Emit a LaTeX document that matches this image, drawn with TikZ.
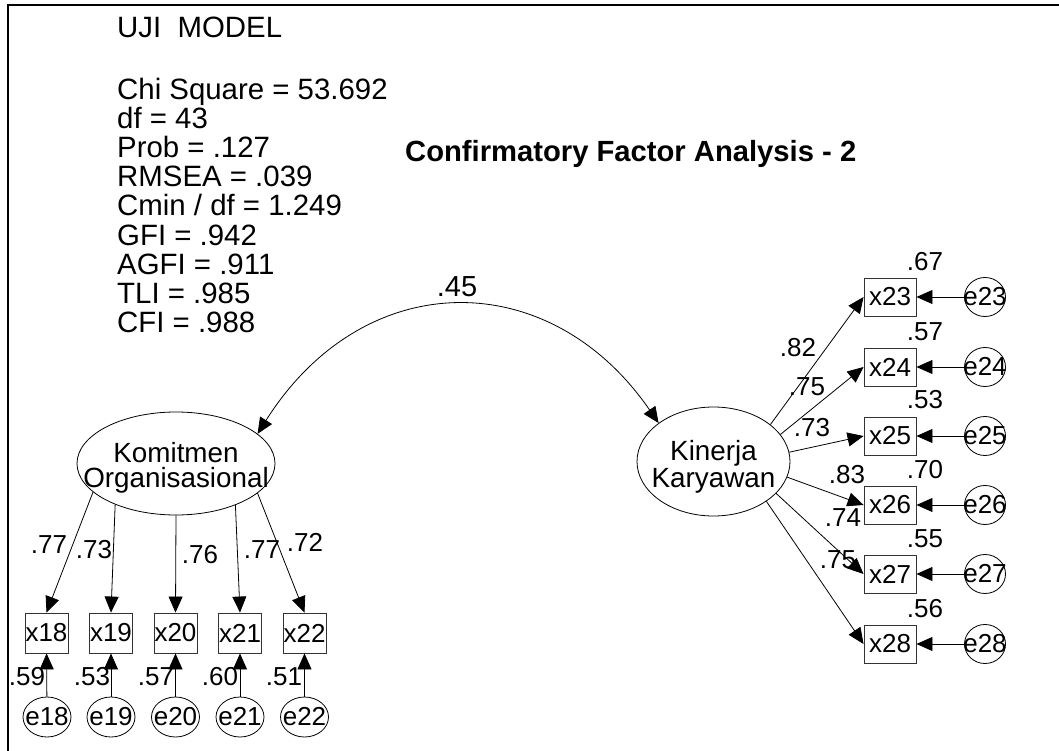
\documentclass[tikz,border=0pt]{standalone}
\usepackage{fontspec}
\setmainfont{Liberation Sans}
\usetikzlibrary{arrows.meta,shapes.geometric}

\begin{document}
\begin{tikzpicture}[x=1pt, y=-1pt,
    >={Triangle[length=16pt,width=14pt]},
    stat/.style={anchor=base west, inner sep=0pt, font=\fontsize{29.4}{29}\selectfont},
    lat/.style={ellipse, draw, line width=0.8pt, inner sep=0pt},
    latname/.style={align=center, inner sep=0pt, font=\fontsize{27.8}{25}\selectfont},
    obsl/.style={rectangle, draw=black!80, line width=0.9pt, inner sep=0pt, minimum width=43pt, minimum height=40pt, font=\fontsize{26}{26}\selectfont},
    obsr/.style={obsl, minimum width=52pt, minimum height=38pt},
    errl/.style={ellipse, draw, line width=0.8pt, inner sep=0pt, minimum width=48pt, minimum height=40pt, font=\fontsize{26}{26}\selectfont},
    errr/.style={errl, minimum width=41pt, minimum height=39pt},
    num/.style={inner sep=0pt, font=\fontsize{26}{26}\selectfont},
    path/.style={->, line width=0.8pt}]

    \useasboundingbox (0,0) rectangle (1059,751);
    \draw[line width=2.5pt] (8,751) -- (8,5) -- (1059,5);

    % fit summary
    \node[stat] (uji) at (117,38) {UJI\ \ MODEL};
    \node[stat] (chi) at (117,100) {Chi Square = 53.692};
    \node[stat] (df) at (117,129) {df = 43};
    \node[stat] (prob) at (117,158) {Prob = .127};
    \node[stat] (rmsea) at (117,187) {RMSEA = .039};
    \node[stat] (cmin) at (117,216) {Cmin / df = 1.249};
    \node[stat] (gfi) at (117,245) {GFI = .942};
    \node[stat] (agfi) at (117,274) {AGFI = .911};
    \node[stat] (tli) at (117,303) {TLI = .985};
    \node[stat] (cfi) at (117,332) {CFI = .988};
    \node[stat, font=\fontsize{29.2}{29}\selectfont\bfseries] (title) at (405,162) {Confirmatory Factor Analysis - 2};

    % latent variables
    \node[lat, minimum width=198pt, minimum height=103pt] (ko) at (176,463.5) {};
    \node[latname] (kot) at (176,468) {Komitmen\\Organisasional};
    \node[lat, minimum width=153pt, minimum height=109pt] (kk) at (713.5,461.5) {};
    \node[latname, font=\fontsize{27.8}{27}\selectfont] (kkt) at (713.5,466.7) {Kinerja\\Karyawan};

    \draw[<->, line width=0.8pt] (ko.20.6) .. controls (364,265) and (550,265) .. (kk.145.3);
    \node[num, font=\fontsize{29}{29}\selectfont] (r) at (457,287) {.45};

    % Komitmen Organisasional
    \node[obsl] (x18) at (46.5,633) {x18};
    \node[obsl] (x19) at (111,633) {x19};
    \node[obsl] (x20) at (175.5,633) {x20};
    \node[obsl] (x21) at (240,633) {x21};
    \node[obsl] (x22) at (304.5,633) {x22};

    \node[errl] (e18) at (47,717) {\makebox[0pt]{e18}};
    \node[errl] (e19) at (111,717) {\makebox[0pt]{e19}};
    \node[errl] (e20) at (175.5,717) {\makebox[0pt]{e20}};
    \node[errl] (e21) at (240,717) {\makebox[0pt]{e21}};
    \node[errl] (e22) at (304.5,717) {\makebox[0pt]{e22}};

    \draw[path] (ko.199.6) -- (x18.north);
    \draw[path] (ko.214.2) -- (x19.north);
    \draw[path] (ko.270) -- (x20.north);
    \draw[path] (ko.325.8) -- (x21.north);
    \draw[path] (ko.340.6) -- (x22.north);

    \draw[path] (e18) -- (x18);
    \draw[path] (e19) -- (x19);
    \draw[path] (e20) -- (x20);
    \draw[path] (e21) -- (x21);
    \draw[path] (e22) -- (x22);

    \node[num] (l18) at (49,545) {.77};
    \node[num] (l19) at (94,550) {.73};
    \node[num] (l20) at (200,555) {.76};
    \node[num] (l21) at (262,550) {.77};
    \node[num] (l22) at (305,542) {.72};

    \node[num] (s18) at (27,677) {.59};
    \node[num] (s19) at (92,677) {.53};
    \node[num] (s20) at (156,677) {.57};
    \node[num] (s21) at (220,677) {.60};
    \node[num] (s22) at (284,677) {.51};

    % Kinerja Karyawan
    \node[obsr] (x23) at (890,297) {x23};
    \node[obsr] (x24) at (890,367) {x24};
    \node[obsr] (x25) at (890,436) {x25};
    \node[obsr] (x26) at (890,505) {x26};
    \node[obsr] (x27) at (890,574) {x27};
    \node[obsr] (x28) at (890,644) {x28};

    \node[errr] (e23) at (985,297) {\makebox[0pt]{e23}};
    \node[errr] (e24) at (985,367) {\makebox[0pt]{e24}};
    \node[errr] (e25) at (985,436) {\makebox[0pt]{e25}};
    \node[errr] (e26) at (985,505) {\makebox[0pt]{e26}};
    \node[errr] (e27) at (985,574) {\makebox[0pt]{e27}};
    \node[errr] (e28) at (985,644) {\makebox[0pt]{e28}};

    \draw[path] (kk.33.3) -- (x23.west);
    \draw[path] (kk.22.6) -- (x24.west);
    \draw[path] (kk.7.1) -- (x25.west);
    \draw[path] (kk.348.2) -- (x26.west);
    \draw[path] (kk.333.6) -- (x27.west);
    \draw[path] (kk.323.4) -- (x28.west);

    \draw[path] (e23) -- (x23);
    \draw[path] (e24) -- (x24);
    \draw[path] (e25) -- (x25);
    \draw[path] (e26) -- (x26);
    \draw[path] (e27) -- (x27);
    \draw[path] (e28) -- (x28);

    \node[num] (l23) at (798,348) {.82};
    \node[num] (l24) at (807,387) {.75};
    \node[num] (l25) at (812,428) {.73};
    \node[num] (l26) at (847,475) {.83};
    \node[num] (l27) at (843,518) {.74};
    \node[num] (l28) at (838,560) {.75};

    \node[num] (s23) at (925,262) {.67};
    \node[num] (s24) at (925,332) {.57};
    \node[num] (s25) at (925,400) {.53};
    \node[num] (s26) at (925,470) {.70};
    \node[num] (s27) at (925,539) {.55};
    \node[num] (s28) at (925,609) {.56};

\end{tikzpicture}
\end{document}
